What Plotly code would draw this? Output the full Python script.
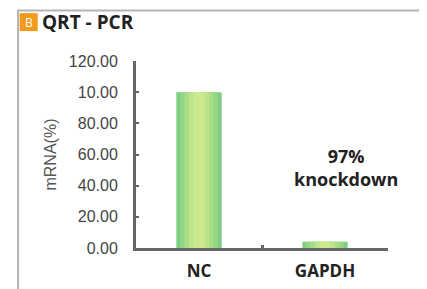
import plotly.graph_objects as go

categories = ["NC", "GAPDH"]
mrna_values = [100, 4]
tick_values = [0, 20, 40, 60, 80, 100, 120]
tick_labels = ["0.00", "20.00", "40.00", "60.00", "80.00", "10.00", "120.00"]

fig = go.Figure()

# layered bars for a gradient look (edges green -> centre yellow-green)
layers = [
    (0.36, "#7fcf83"),
    (0.30, "#94d686"),
    (0.23, "#a9de88"),
    (0.16, "#bde48a"),
    (0.09, "#cce98c"),
]
for w, c in layers:
    fig.add_trace(go.Bar(x=categories, y=mrna_values, width=w,
                         marker=dict(color=c, line=dict(width=0)),
                         hoverinfo="skip", showlegend=False))

fig.update_layout(
    barmode="overlay",
    width=419, height=281,
    margin=dict(l=128, r=39, t=53, b=41),
    paper_bgcolor="white", plot_bgcolor="white",
    font=dict(family="Liberation Sans Narrow, Arial Narrow, sans-serif", color="#333"),
    xaxis=dict(
        type="category", range=[-0.5, 1.5], automargin=False,
        showline=True, linecolor="#666", linewidth=3,
        ticks="inside", tickson="boundaries", ticklen=3, tickwidth=3, tickcolor="#666",
        showgrid=False,
        tickfont=dict(family="Open Sans, sans-serif", size=17, color="#222", weight="bold"),
        ticklabelstandoff=6,
    ),
    yaxis=dict(
        range=[0, 120], tickvals=tick_values, ticktext=tick_labels, automargin=False,
        showline=True, linecolor="#666", linewidth=3,
        ticks="inside", ticklen=3, tickwidth=2, tickcolor="#666",
        showgrid=False, zeroline=False,
        tickfont=dict(size=16, color="#444"),
        ticklabelstandoff=12,
        title=dict(text="mRNA(%)", font=dict(size=16, color="#555"), standoff=9),
    ),
    shapes=[
        dict(type="rect", xref="paper", yref="paper",
             x0=-0.468, x1=1.13, y0=-0.35, y1=1.27,
             line=dict(color="#b5b5b5", width=2), fillcolor="rgba(0,0,0,0)", layer="below"),
        dict(type="rect", xref="paper", yref="paper",
             x0=-0.462, x1=-0.39, y0=1.16, y1=1.256,
             line=dict(width=0), fillcolor="#f39a1e"),
    ],
    annotations=[
        dict(text="B", xref="paper", yref="paper", x=-0.426, y=1.208,
             showarrow=False, font=dict(family="Open Sans, sans-serif", size=12, color="white"),
             xanchor="center", yanchor="middle"),
        dict(text="<b>QRT - PCR</b>", xref="paper", yref="paper", x=-0.38, y=1.208,
             showarrow=False, font=dict(family="Open Sans, sans-serif", size=19, color="#222"),
             xanchor="left", yanchor="middle"),
        dict(text="<b>97%<br>knockdown</b>", xref="paper", yref="paper", x=0.835, y=0.43,
             showarrow=False, font=dict(family="Open Sans, sans-serif", size=18, color="#222"),
             xanchor="center", yanchor="middle", align="center"),
    ],
)

fig.write_html("out.html")
